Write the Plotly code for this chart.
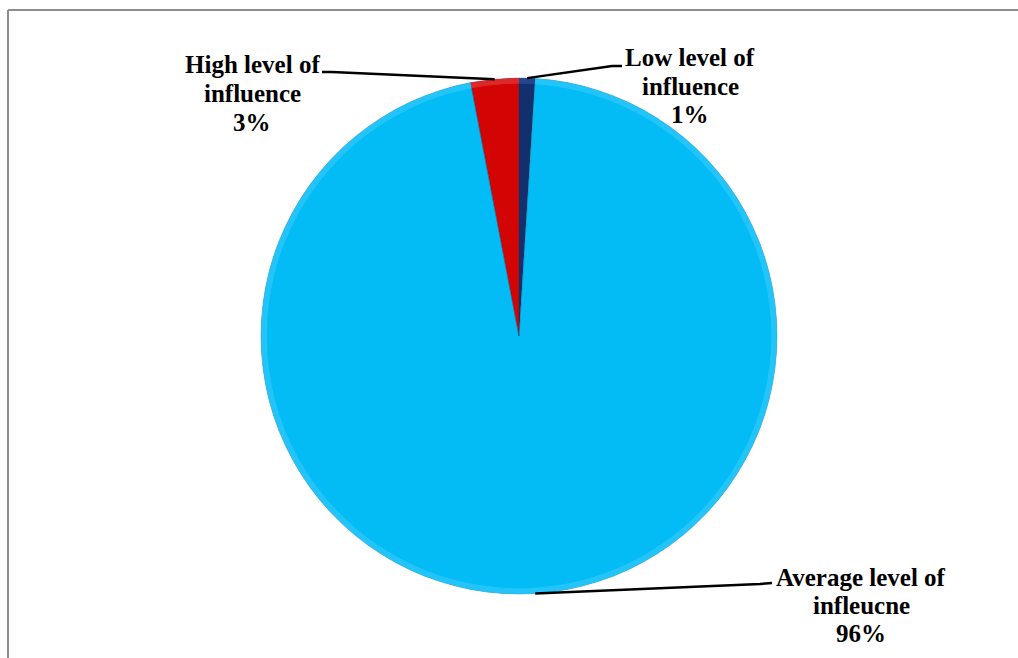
import math
import plotly.graph_objects as go

# Survey shares, listed clockwise from 12 o'clock
categories = ["Low level of influence", "Average level of infleucne", "High level of influence"]
shares = [1, 96, 3]
pct_labels = ["1%", "96%", "3%"]
label_lines = [["Low level of", "influence"], ["Average level of", "infleucne"], ["High level of", "influence"]]
colors = ["#12306e", "#03bcf6", "#d20404"]
rim_colors = ["#2a4c98", "#2cc7fa", "#e23232"]

W, H = 1018, 658
CX, CY, R = 519, 336, 258  # pie centre and radius, pixels

FONT = dict(family="Liberation Serif, Times New Roman, serif", size=25, color="black")
domain = dict(x=[(CX - R) / W, (CX + R) / W], y=[1 - (CY + R) / H, 1 - (CY - R) / H])

fig = go.Figure()
fig.add_trace(go.Pie(
    labels=categories,
    values=shares,
    sort=False,
    direction="clockwise",
    rotation=0,
    textinfo="none",
    hoverinfo="label+percent",
    marker=dict(colors=colors, line=dict(color="rgba(0,60,110,0.3)", width=1)),
    domain=domain,
    showlegend=False,
))
# Lighter bevel band around the rim
fig.add_trace(go.Pie(
    labels=categories,
    values=shares,
    sort=False,
    direction="clockwise",
    rotation=0,
    hole=0.978,
    textinfo="none",
    hoverinfo="skip",
    opacity=0.8,
    marker=dict(colors=rim_colors, line=dict(width=0)),
    domain=domain,
    showlegend=False,
))


def px_to_paper(x, y):
    return x / W, 1 - y / H


def edge_point(frac):
    """Point on the rim at a fraction of the full turn, clockwise from the top."""
    a = 2 * math.pi * frac
    return CX + R * math.sin(a), CY - R * math.cos(a)


# Mid-angle of every slice, from the data
total = sum(shares)
mids = []
acc = 0
for v in shares:
    mids.append((acc + v / 2) / total)
    acc += v

# Label blocks: centre x, centre y of first line, line spacing, leader elbow
label_layout = [
    dict(x=690, y=58, dy=28, elbow=[(612, 66), (622, 66)]),     # Low
    dict(x=861, y=577, dy=28, elbow=[(760, 584), (772, 583)]),  # Average
    dict(x=252, y=64, dy=29, elbow=[(332, 72), (322, 72)]),     # High
]

shapes = []
annotations = []
for i, lay in enumerate(label_layout):
    lines = label_lines[i] + [pct_labels[i]]
    for k, t in enumerate(lines):
        xp, yp = px_to_paper(lay["x"], lay["y"] + k * lay["dy"])
        annotations.append(dict(x=xp, y=yp, xref="paper", yref="paper", text=f"<b>{t}</b>",
                                showarrow=False, xanchor="center", yanchor="middle", font=FONT))
    ex, ey = edge_point(mids[i])
    pts = [(ex, ey)] + lay["elbow"]
    path = "M " + " L ".join(f"{px_to_paper(x, y)[0]:.5f},{px_to_paper(x, y)[1]:.5f}" for x, y in pts)
    shapes.append(dict(type="path", xref="paper", yref="paper", path=path,
                       line=dict(color="black", width=2.5)))

# Chart frame (left and top edges)
shapes.append(dict(type="line", xref="paper", yref="paper", x0=8 / W, x1=8 / W, y0=0, y1=1 - 10 / H,
                   line=dict(color="#8c8c8c", width=2)))
shapes.append(dict(type="line", xref="paper", yref="paper", x0=8 / W, x1=1, y0=1 - 10 / H, y1=1 - 10 / H,
                   line=dict(color="#8c8c8c", width=2)))

fig.update_layout(
    width=W, height=H,
    margin=dict(l=0, r=0, t=0, b=0),
    paper_bgcolor="white",
    plot_bgcolor="white",
    shapes=shapes,
    annotations=annotations,
)

fig.write_html("out.html")
